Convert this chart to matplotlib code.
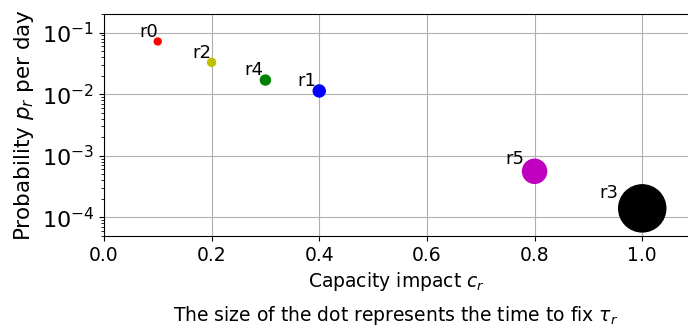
import numpy as np
import matplotlib
matplotlib.use('Agg')
import matplotlib.pyplot as plt

# risk data
names = ['r0', 'r1', 'r2', 'r3', 'r4', 'r5']
capacity = [0.1, 0.4, 0.2, 1.0, 0.3, 0.8]
probability = [7.2e-2, 1.13e-2, 3.3e-2, 1.4e-4, 1.7e-2, 5.6e-4]
time_to_fix = [25, 75, 33, 1150, 52, 300]
colors = ['r', 'b', 'y', 'k', 'g', 'm']

fig = plt.figure(figsize=(6.88, 3.29), dpi=100)
ax = fig.add_axes([0.151, 0.283, 0.849, 0.674])

ax.scatter(capacity, probability, s=time_to_fix, c=colors, zorder=3)

for name, x, y, s in zip(names, capacity, probability, time_to_fix):
    r = np.sqrt(s) / 2
    ax.annotate(name, (x, y), xytext=(-1.2 * (r - 2.5), 2.5 + 0.3 * r),
                textcoords='offset points', ha='right', va='baseline',
                fontsize=13, zorder=4)

ax.set_yscale('log')
ax.set_xlim(0, 1.085)
ax.set_ylim(5e-5, 0.2)
ax.grid(True, which='major', color='#b0b0b0', linewidth=0.8)
ax.spines['right'].set_visible(False)
ax.tick_params(axis='x', labelsize=13.5)
ax.tick_params(axis='y', labelsize=16)
ax.set_xlabel('Capacity impact $c_r$', fontsize=13.5)
ax.set_ylabel('Probability $p_r$ per day', fontsize=15.5)

fig.text(0.575, 0.005, r'The size of the dot represents the time to fix $\tau_r$',
         ha='center', va='bottom', fontsize=13.5)

fig.savefig('out.png', dpi=100)
